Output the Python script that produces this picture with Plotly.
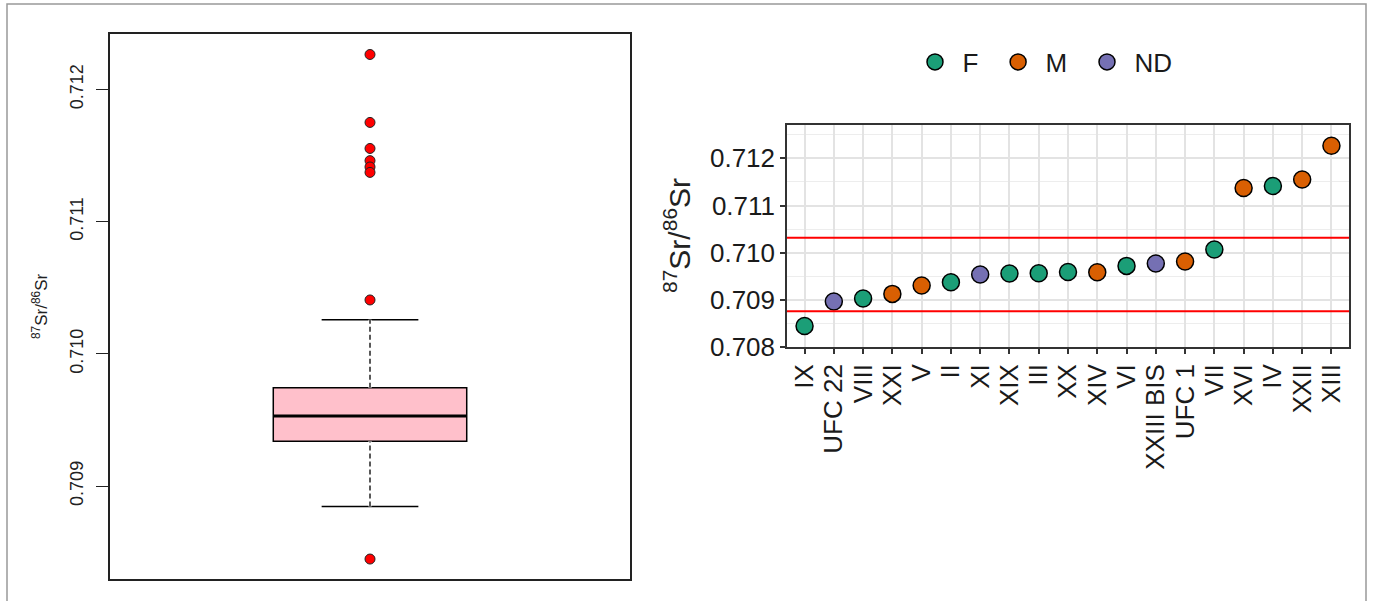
import plotly.graph_objects as go

# ---------------- data ----------------
# Left panel: box-plot summary of 87Sr/86Sr
box_q1 = 0.709340
box_median = 0.709530
box_q3 = 0.709743
box_lower_whisker = 0.708845
box_upper_whisker = 0.710259
box_outliers = [0.712265, 0.711751, 0.711554, 0.711462, 0.711414, 0.711373, 0.710408, 0.708448]

# Right panel: ordered individuals
individuals = ["IX", "UFC 22", "VIII", "XXI", "V", "II", "XI", "XIX", "III", "XX",
               "XIV", "VI", "XXIII BIS", "UFC 1", "VII", "XVI", "IV", "XXII", "XIII"]
sex = ["F", "ND", "F", "M", "M", "F", "ND", "F", "F", "F",
       "M", "F", "ND", "M", "F", "M", "F", "M", "M"]
sr_ratio = [0.708446, 0.708963, 0.709027, 0.709126, 0.709303, 0.709373, 0.709536, 0.709558,
            0.709565, 0.709590, 0.709586, 0.709720, 0.709770, 0.709812, 0.710067, 0.711370,
            0.711414, 0.711550, 0.712268]
local_range = [0.708758, 0.710318]

sex_levels = ["F", "M", "ND"]
sex_colors = {"F": "#1B9E77", "M": "#D95F02", "ND": "#7570B3"}

left_ticks = [0.709, 0.710, 0.711, 0.712]
right_ticks = [0.708, 0.709, 0.710, 0.711, 0.712]

# ---------------- figure ----------------
W, H = 1373, 601
FONT = "Liberation Sans, Arial, sans-serif"
fig = go.Figure()

box_w = 0.372
fig.add_trace(go.Box(
    x=[0], q1=[box_q1], median=[box_median], q3=[box_q3],
    lowerfence=[box_lower_whisker], upperfence=[box_upper_whisker],
    width=box_w, whiskerwidth=0.5, fillcolor="#FFC0CB",
    line=dict(color="black", width=1.5), boxpoints=False,
    xaxis="x", yaxis="y", showlegend=False, hoverinfo="skip"))
# dashed whisker stems (R style)
for y0, y1 in [(box_q3, box_upper_whisker), (box_lower_whisker, box_q1)]:
    fig.add_trace(go.Scatter(x=[0, 0], y=[y0, y1], mode="lines",
                             line=dict(color="white", width=3),
                             xaxis="x", yaxis="y", showlegend=False, hoverinfo="skip"))
    fig.add_trace(go.Scatter(x=[0, 0], y=[y0, y1], mode="lines",
                             line=dict(color="black", width=1.3, dash="5px,3px"),
                             xaxis="x", yaxis="y", showlegend=False, hoverinfo="skip"))
# thick median
fig.add_trace(go.Scatter(x=[-box_w / 2, box_w / 2], y=[box_median, box_median], mode="lines",
                         line=dict(color="black", width=3),
                         xaxis="x", yaxis="y", showlegend=False, hoverinfo="skip"))
# outliers
fig.add_trace(go.Scatter(x=[0] * len(box_outliers), y=box_outliers, mode="markers",
                         marker=dict(color="#FF0000", size=10, line=dict(color="#222", width=1)),
                         xaxis="x", yaxis="y", showlegend=False))

# right panel points by sex
for lev in sex_levels:
    xs = [c for c, s in zip(individuals, sex) if s == lev]
    ys = [v for v, s in zip(sr_ratio, sex) if s == lev]
    fig.add_trace(go.Scatter(x=xs, y=ys, mode="markers", name=lev + "\u00a0",
                             marker=dict(color=sex_colors[lev], size=17,
                                         line=dict(color="black", width=1.5)),
                             xaxis="x2", yaxis="y2"))

for v in local_range:
    fig.add_shape(type="line", xref="x2 domain", x0=0, x1=1, yref="y2", y0=v, y1=v,
                  line=dict(color="#FF0000", width=2), layer="above")

# outer frame
fig.add_shape(type="rect", xref="paper", yref="paper",
              x0=7 / W, x1=1366 / W, y0=-0.1, y1=1 - 4 / H,
              line=dict(color="#999999", width=1.5))

fig.add_annotation(text="<sup>87</sup>Sr/<sup>86</sup>Sr", xref="paper", yref="paper",
                   x=27 / W, y=1 - 306 / H, textangle=-90, showarrow=False,
                   font=dict(family=FONT, size=17, color="#222"))
fig.add_annotation(text="<sup>87</sup>Sr/<sup>86</sup>Sr", xref="paper", yref="paper",
                   x=677 / W, y=1 - 236 / H, textangle=-90, showarrow=False,
                   font=dict(family=FONT, size=30, color="#222"))

fig.update_layout(
    width=W, height=H, margin=dict(l=0, r=0, t=0, b=0, autoexpand=False),
    paper_bgcolor="white", plot_bgcolor="white",
    font=dict(family=FONT, color="#222"),
    xaxis=dict(domain=[110 / W, 630 / W], range=[-0.5, 0.5], showticklabels=False,
               ticks="", showgrid=False, zeroline=False, showline=True, mirror=True,
               linecolor="#222", linewidth=1.5, automargin=False),
    yaxis=dict(domain=[1 - 579 / H, 1 - 34 / H], range=[0.708297, 0.712420],
               tickvals=left_ticks, tickformat=".3f", tickangle=-90, ticks="outside",
               ticklen=12, tickwidth=1.2, tickcolor="#222", showgrid=False, zeroline=False,
               showline=True, mirror=True, linecolor="#222", linewidth=1.5, automargin=False,
               tickfont=dict(family=FONT, size=18, color="#222"), ticklabelstandoff=6),
    xaxis2=dict(domain=[787 / W, 1349 / W], anchor="y2", type="category",
                categoryorder="array", categoryarray=individuals, range=[-0.6, 18.6],
                tickmode="array", tickvals=individuals, ticktext=individuals,
                tickangle=-90, ticks="outside", ticklen=5, tickwidth=1.5, tickcolor="#333",
                showgrid=True, gridcolor="#E3E3E3", gridwidth=1.5, zeroline=False,
                showline=True, mirror=True, linecolor="#333", linewidth=1.5, automargin=False,
                tickfont=dict(family=FONT, size=26, color="#1a1a1a")),
    yaxis2=dict(domain=[1 - 347 / H, 1 - 125 / H], anchor="x2", range=[0.708, 0.712707],
                tickvals=right_ticks, tickformat=".3f", ticks="outside", ticklen=5,
                tickwidth=1.5, tickcolor="#333", showgrid=True, gridcolor="#E3E3E3",
                gridwidth=1.5, zeroline=False, showline=True, mirror=True,
                linecolor="#333", linewidth=1.5, automargin=False,
                minor=dict(dtick=0.0005, tick0=0.708, showgrid=True, gridcolor="#EDEDED",
                           gridwidth=1, ticks=""),
                tickfont=dict(family=FONT, size=26, color="#1a1a1a")),
    legend=dict(orientation="h", x=1046 / W, xanchor="center", y=1 - 62 / H,
                yanchor="middle", font=dict(family=FONT, size=26, color="#1a1a1a"),
                itemsizing="trace", itemwidth=45, bgcolor="rgba(0,0,0,0)"),
)

fig.write_html(
    "out.html",
    config={"displayModeBar": False},
    post_script=("var s=document.documentElement.style, b=document.body.style;"
                 "b.margin='0';b.padding='0';b.overflow='hidden';s.overflow='hidden';"),
)
